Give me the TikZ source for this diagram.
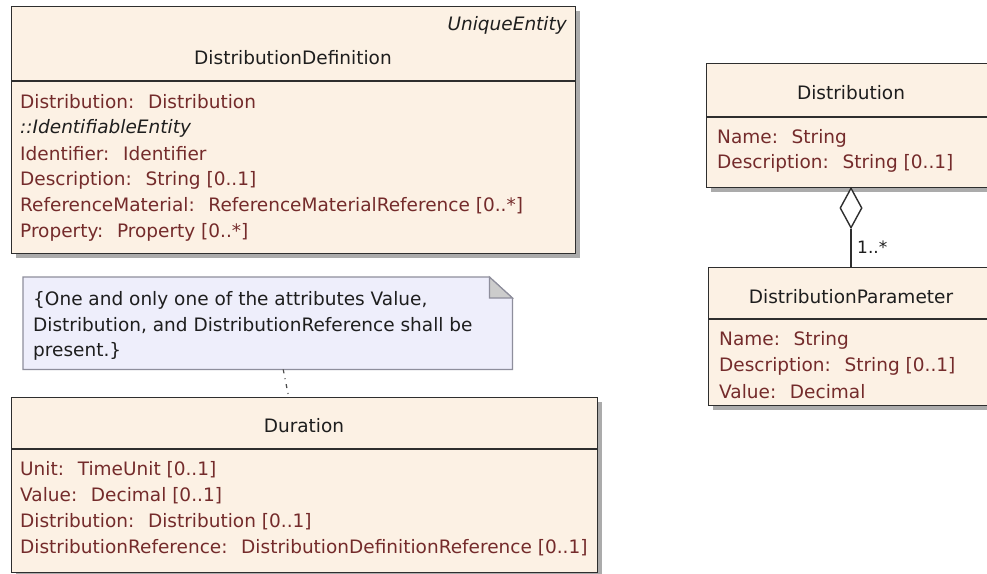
\documentclass[tikz,border=0pt]{standalone}
\usepackage{fontspec}
\setmainfont{DejaVu Sans}
\usetikzlibrary{shapes.geometric,shadows,calc}
\definecolor{clsfill}{HTML}{FCF1E4}
\definecolor{attr}{HTML}{742B2B}
\definecolor{notefill}{HTML}{EEEEFB}
\definecolor{noteline}{HTML}{8E8E9C}
\definecolor{boxline}{HTML}{2E2E2E}
\definecolor{shadowc}{HTML}{ABABAB}
\definecolor{titlec}{HTML}{1E1E1E}
\newcommand{\umlfont}{\fontsize{18.5}{22}\selectfont}
\begin{document}
\begin{tikzpicture}[x=1pt,y=-1pt,
  cls/.style={draw=boxline,line width=1.4pt,fill=clsfill,rectangle,inner sep=0pt,anchor=north west,
    drop shadow={shadow xshift=4pt,shadow yshift=-4pt,fill=shadowc,opacity=1}},
  sepline/.style={draw=boxline,line width=1.4pt},
  attrtext/.style={anchor=west,inner sep=0pt,text=attr,font=\umlfont},
  titletext/.style={inner sep=0pt,text=titlec,font=\umlfont},
  notetext/.style={anchor=west,inner sep=0pt,text=titlec,font=\umlfont},
  notelink/.style={draw=black!70,line width=1.2pt,dash pattern=on 4pt off 5pt on 1pt off 5pt},
  aggr/.style={diamond,draw=boxline,line width=1.4pt,fill=white,inner sep=0pt,minimum width=22pt,minimum height=40pt}
]
\useasboundingbox (0,0) rectangle (987,573);
\clip (0,0) rectangle (987,573);
\fill[white] (0,0) rectangle (987,573);

% DistributionDefinition
\node[cls,minimum width=564pt,minimum height=247pt] (dd) at (11,6) {};
\draw[sepline] (11,81) -- (575,81);
\node[titletext,anchor=east,font=\umlfont\itshape] (ddst) at (567,25) {UniqueEntity};
\node[titletext] (ddt) at (293,58) {DistributionDefinition};
\node[attrtext] (dd1) at (20,102) {Distribution:~ Distribution};
\node[attrtext,font=\umlfont\itshape,text=titlec] (dd2) at (20,128) {::IdentifiableEntity};
\node[attrtext] (dd3) at (20,154) {Identifier:~ Identifier};
\node[attrtext] (dd4) at (20,180) {Description:~ String [0..1]};
\node[attrtext] (dd5) at (20,206) {ReferenceMaterial:~ ReferenceMaterialReference [0..*]};
\node[attrtext] (dd6) at (20,232) {Property:~ Property [0..*]};

% Note
\node[inner sep=0pt,minimum width=489pt,minimum height=92pt,anchor=north west] (note) at (23,277) {};
\draw[draw=noteline,line width=1.2pt,fill=notefill]
  (note.north west) -- ([xshift=-23pt]note.north east) -- ([yshift=-21pt]note.north east)
  -- (note.south east) -- (note.south west) -- cycle;
\draw[draw=noteline,line width=1.2pt,fill=black!20]
  ([xshift=-23pt]note.north east) -- ([xshift=-23pt,yshift=-21pt]note.north east) -- ([yshift=-21pt]note.north east) -- cycle;
\node[notetext] (n1) at (33,300) {\{One and only one of the attributes Value,};
\node[notetext] (n2) at (33,326) {Distribution, and DistributionReference shall be};
\node[notetext] (n3) at (33,351) {present.\}};

% Duration
\node[cls,minimum width=586pt,minimum height=175pt] (dur) at (11,397) {};
\draw[sepline] (11,449) -- (597,449);
\node[titletext] (durt) at (304,426) {Duration};
\node[attrtext] (du1) at (20,470) {Unit:~ TimeUnit [0..1]};
\node[attrtext] (du2) at (20,496) {Value:~ Decimal [0..1]};
\node[attrtext] (du3) at (20,522) {Distribution:~ Distribution [0..1]};
\node[attrtext] (du4) at (20,548) {DistributionReference:~ DistributionDefinitionReference [0..1]};

\draw[notelink] ([xshift=15.5pt]note.south) -- ([xshift=-16pt]dur.north);

% Distribution
\node[cls,minimum width=289pt,minimum height=124pt] (dist) at (706,63) {};
\draw[sepline] (706,117) -- (995,117);
\node[titletext] (distt) at (851,93) {Distribution};
\node[attrtext] (di1) at (717,138) {Name:~ String};
\node[attrtext] (di2) at (717,163) {Description:~ String [0..1]};

% DistributionParameter
\node[cls,minimum width=287pt,minimum height=138pt] (dp) at (708,267) {};
\draw[sepline] (708,319) -- (995,319);
\node[titletext] (dpt) at (851,297) {DistributionParameter};
\node[attrtext] (dp1) at (719,340) {Name:~ String};
\node[attrtext] (dp2) at (719,366) {Description:~ String [0..1]};
\node[attrtext] (dp3) at (719,392) {Value:~ Decimal};

% aggregation
\node[aggr] (agg) at (851,208) {};
\draw[draw=boxline,line width=1.4pt] (agg.south) -- (agg.south |- dp.north);
\node[attrtext,text=titlec,font=\fontsize{17}{20}\selectfont] (mult) at (857,247) {1..*};
\end{tikzpicture}
\end{document}
